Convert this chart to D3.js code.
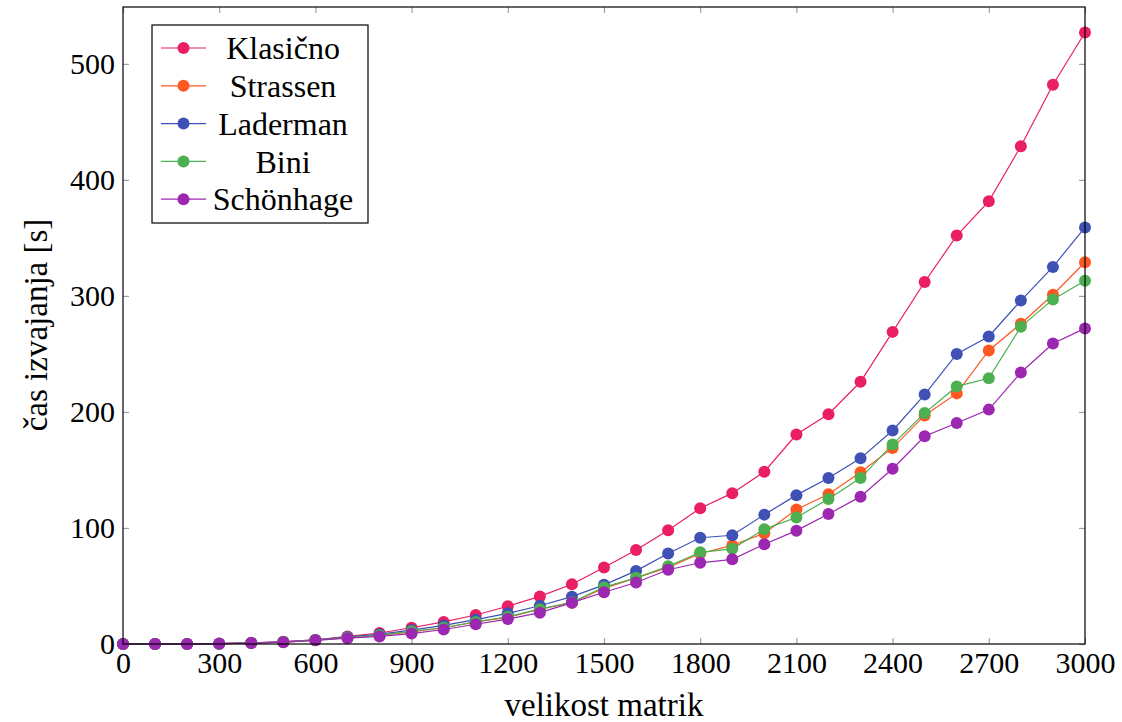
<!DOCTYPE html>
<html>
<head>
<meta charset="utf-8">
<script src="https://cdn.jsdelivr.net/npm/d3@7"></script>
<style>
  body { margin: 0; background: #fff; }
</style>
</head>
<body>
<div id="chart"></div>
<script>
// matrix sizes (x axis)
const sizes = [0, 100, 200, 300, 400, 500, 600, 700, 800, 900, 1000, 1100, 1200, 1300, 1400, 1500,
    1600, 1700, 1800, 1900, 2000, 2100, 2200, 2300, 2400, 2500, 2600, 2700, 2800, 2900, 3000];

// running times in seconds
const klasicno = [0, 0.02, 0.1, 0.4, 1, 2, 3.5, 6.5, 9.5, 14, 19, 25, 32.5, 41, 51.5, 66,
    81, 98, 117, 130, 148.5, 180.5, 198, 226, 269, 312, 352, 381.5, 429, 482, 527];
const strassen = [0, 0.01, 0.08, 0.3, 0.8, 1.7, 3.3, 5.5, 7.5, 10.5, 14, 19, 23, 30, 35.6, 48,
    57, 66, 78, 85, 95.5, 116, 129, 148, 169, 197, 216, 253, 276, 301, 329];
const laderman = [0, 0.01, 0.08, 0.3, 0.9, 1.8, 3.5, 6, 8.5, 12, 16, 21, 26.4, 33, 40.8, 51,
    63, 78, 91.6, 93.7, 111.5, 128.3, 143, 160, 184, 215, 250, 265, 296, 325, 359];
const bini = [0, 0.01, 0.08, 0.3, 0.8, 1.7, 3.4, 5.5, 7.5, 11, 14, 19, 23.5, 30, 36, 49,
    57, 67, 79, 82, 99, 109, 125, 143, 172, 199, 222, 229, 273.5, 297, 313];
const schonhage = [0, 0.01, 0.07, 0.3, 0.8, 1.6, 3.2, 5, 6.5, 9, 12.5, 17, 21.5, 27, 35.6, 44.6,
    53, 64, 70, 73, 86, 97.7, 112, 127, 151, 179, 190.5, 202, 234, 259, 272];

const seriesNames = ["Klasično", "Strassen", "Laderman", "Bini", "Schönhage"];
const seriesValues = [klasicno, strassen, laderman, bini, schonhage];
const seriesColors = ["#e91e63", "#ff5722", "#3f51b5", "#4caf50", "#9c27b0"];

const xTicks = [0, 300, 600, 900, 1200, 1500, 1800, 2100, 2400, 2700, 3000];
const yTicks = [0, 100, 200, 300, 400, 500];

/* ---------- dimensions ---------- */
const W = 1122, H = 722;
const margin = { top: 7, right: 37, bottom: 78, left: 123 };
const width = W - margin.left - margin.right;
const height = H - margin.top - margin.bottom;
const serif = "Liberation Serif";
const tickFont = 30, labelFont = 33, legendFont = 32;

const svg = d3.select("#chart").append("svg")
    .attr("width", W).attr("height", H);
const g = svg.append("g")
    .attr("transform", `translate(${margin.left},${margin.top})`);

/* ---------- scales ---------- */
const x = d3.scaleLinear().domain([0, 3000]).range([0, width]);
const y = d3.scaleLinear().domain([0, 549]).range([height, 0]);

/* ---------- axes (ticks inside, mirrored) ---------- */
const tickColor = "#a0a0a0";

function styleAxis(sel) {
    sel.attr("font-family", serif).attr("font-size", tickFont);
    sel.select(".domain").remove();
    sel.selectAll(".tick line").attr("stroke", tickColor).attr("stroke-width", 1.2);
    sel.selectAll(".tick text").attr("fill", "#000");
}

g.append("g").attr("transform", `translate(0,${height})`)
    .call(d3.axisBottom(x).tickValues(xTicks).tickSize(-6).tickPadding(8).tickFormat(d3.format("d")))
    .call(styleAxis);
g.append("g")
    .call(d3.axisTop(x).tickValues(xTicks).tickSize(-6).tickFormat(""))
    .call(styleAxis);
g.append("g")
    .call(d3.axisLeft(y).tickValues(yTicks).tickSize(-6).tickPadding(8).tickFormat(d3.format("d")))
    .call(styleAxis);
g.append("g").attr("transform", `translate(${width},0)`)
    .call(d3.axisRight(y).tickValues(yTicks).tickSize(-6).tickFormat(""))
    .call(styleAxis);

/* ---------- series ---------- */
const line = d3.line().x((d, i) => x(sizes[i])).y(d => y(d));

seriesValues.forEach((vals, k) => {
    g.append("path")
        .datum(vals)
        .attr("fill", "none")
        .attr("stroke", seriesColors[k])
        .attr("stroke-width", 1.2)
        .attr("d", line);
    g.selectAll(null)
        .data(vals)
        .enter().append("circle")
        .attr("cx", (d, i) => x(sizes[i]))
        .attr("cy", d => y(d))
        .attr("r", 6)
        .attr("fill", seriesColors[k]);
});

/* ---------- frame ---------- */
g.append("rect")
    .attr("width", width).attr("height", height)
    .attr("fill", "none").attr("stroke", "#000").attr("stroke-width", 1.2);

/* ---------- axis labels ---------- */
svg.append("text")
    .attr("x", margin.left + width / 2).attr("y", 716)
    .attr("text-anchor", "middle")
    .attr("font-family", serif)
    .attr("font-size", labelFont)
    .text("velikost matrik");
svg.append("text")
    .attr("transform", `translate(47,325) rotate(-90)`)
    .attr("text-anchor", "middle")
    .attr("font-family", serif)
    .attr("font-size", labelFont)
    .text("čas izvajanja [s]");

/* ---------- legend ---------- */
const legend = svg.append("g").attr("transform", "translate(152,25)");
legend.append("rect")
    .attr("width", 216).attr("height", 198)
    .attr("fill", "#fff").attr("stroke", "#000").attr("stroke-width", 1.2);
seriesNames.forEach((name, k) => {
    const ly = 23 + k * 37.8;
    legend.append("line")
        .attr("x1", 9).attr("x2", 54).attr("y1", ly).attr("y2", ly)
        .attr("stroke", seriesColors[k]).attr("stroke-width", 1.2);
    legend.append("circle")
        .attr("cx", 31.5).attr("cy", ly).attr("r", 6)
        .attr("fill", seriesColors[k]);
    legend.append("text")
        .attr("x", 131).attr("y", ly)
        .attr("dy", "0.35em")
        .attr("text-anchor", "middle")
        .attr("font-family", serif)
        .attr("font-size", legendFont)
        .text(name);
});
</script>
</body>
</html>
